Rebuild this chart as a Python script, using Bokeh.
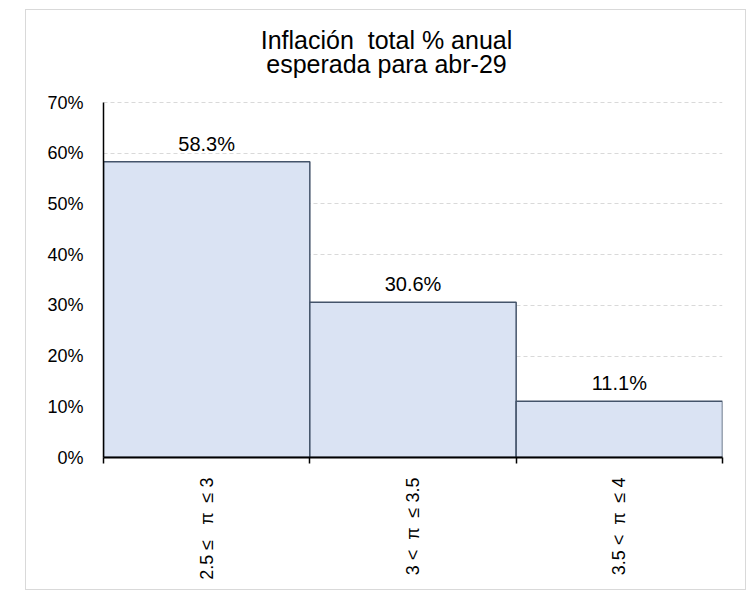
import math
from bokeh.plotting import figure
from bokeh.models import Range1d, FixedTicker, NumeralTickFormatter, CustomJSTickFormatter, Label, ColumnDataSource
from bokeh.core.properties import value
from bokeh.embed import file_html
from bokeh.resources import INLINE

NB = "\u00a0"

# Data
categories = ["2.5" + NB + "≤" + NB * 3 + "π" + NB * 2 + "≤" + NB + "3",
              "3" + NB + "<" + NB * 2 + "π" + NB * 2 + "≤" + NB + "3.5",
              "3.5" + NB + "<" + NB * 2 + "π" + NB * 2 + "≤" + NB + "4"]
shares = [0.583, 0.306, 0.111]
share_labels = ["58.3%", "30.6%", "11.1%"]
y_ticks = [0.0, 0.1, 0.2, 0.3, 0.4, 0.5, 0.6, 0.7]
title_lines = ["Inflación" + NB * 2 + "total % anual", "esperada para abr-29"]

FONT = "Liberation Sans"

# layout (pixels)
AXIS_MAX = 0.7          # top of the value axis
AXIS_PX = 355           # pixel height of 0..AXIS_MAX
FRAME_TOP_PAD = 10
FRAME_H = 437           # frame includes space for the title above the axis
y_top = AXIS_MAX * FRAME_H / AXIS_PX

centers = [i + 0.5 for i in range(len(categories))]
edges = list(range(len(categories) + 1))

src = ColumnDataSource(dict(x=centers, top=shares, lab=share_labels))

p = figure(width=721, height=581, output_backend="svg", toolbar_location=None,
           x_range=Range1d(0, len(categories)), y_range=Range1d(0, y_top),
           min_border_left=77, min_border_right=25, min_border_top=FRAME_TOP_PAD,
           min_border_bottom=134, title=None)
p.styles = {"margin-left": "25px", "margin-top": "9px", "border": "1px solid #d9d9d9"}
p.outline_line_color = None
p.background_fill_color = "white"
p.border_fill_color = "white"

p.vbar(x="x", top="top", width=1.0, bottom=0, source=src,
       fill_color="#dae3f3", line_color="#44546a", line_width=1.5)

p.text(x="x", y="top", text="lab", source=src, text_align="center", text_baseline="alphabetic",
       y_offset=-18, text_font=value(FONT), text_font_size="20px", text_color="#000000")

# Y axis
p.yaxis.bounds = (0, AXIS_MAX)
p.yaxis.ticker = FixedTicker(ticks=y_ticks)
p.yaxis.formatter = NumeralTickFormatter(format="0%")
p.yaxis.major_tick_out = 0
p.yaxis.major_tick_in = 0
p.yaxis.minor_tick_out = 0
p.yaxis.minor_tick_in = 0
p.yaxis.major_label_standoff = 20
p.yaxis.axis_line_color = "#000000"
p.yaxis.axis_line_width = 1.5
p.yaxis.major_label_text_font = FONT
p.yaxis.major_label_text_font_size = "18px"
p.yaxis.major_label_text_color = "#000000"

# X axis
p.xaxis.ticker = FixedTicker(ticks=centers, minor_ticks=edges)
p.xaxis.formatter = CustomJSTickFormatter(args=dict(labels=categories),
                                          code="return labels[Math.floor(tick)];")
p.xaxis.major_tick_out = 0
p.xaxis.major_tick_in = 0
p.xaxis.minor_tick_out = 6
p.xaxis.minor_tick_in = 0
p.xaxis.minor_tick_line_color = "#000000"
p.xaxis.minor_tick_line_width = 1.5
p.xaxis.axis_line_color = "#000000"
p.xaxis.axis_line_width = 2
p.xaxis.major_label_orientation = math.pi / 2
p.xaxis.major_label_standoff = 14
p.xaxis.major_label_text_font = FONT
p.xaxis.major_label_text_font_size = "18px"
p.xaxis.major_label_text_color = "#000000"

# Grid
p.xgrid.grid_line_color = None
p.ygrid.ticker = FixedTicker(ticks=y_ticks)
p.ygrid.grid_line_color = "#d9d9d9"
p.ygrid.grid_line_dash = "4 3"
p.ygrid.grid_line_width = 1

# Title: two centred lines inside the (extended) frame, above the axis top
px_per_unit = AXIS_PX / AXIS_MAX
tx = (386 - 103) / 619 * len(categories)
p.add_layout(Label(x=tx, y=(457 - 39) / px_per_unit, text=title_lines[0],
                   text_align="center", text_baseline="alphabetic",
                   text_font=FONT, text_font_size="25px", text_color="#000000"))
p.add_layout(Label(x=tx, y=(457 - 63) / px_per_unit, text=title_lines[1],
                   text_align="center", text_baseline="alphabetic",
                   text_font=FONT, text_font_size="25px", text_color="#000000"))

open("out.html", "w").write(file_html(p, INLINE))
